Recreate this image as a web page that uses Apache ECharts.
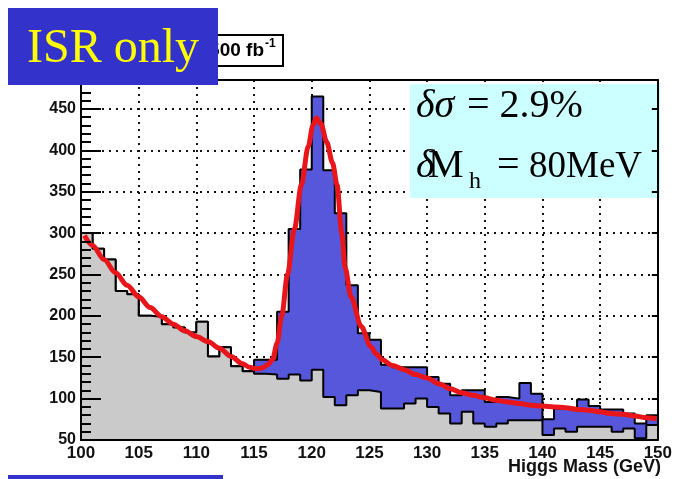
<!DOCTYPE html>
<html><head><meta charset="utf-8">
<script src="https://cdn.jsdelivr.net/npm/echarts@6/dist/echarts.min.js"></script>
<style>html,body{margin:0;padding:0;background:#fff}#c{width:675px;height:479px}</style>
</head><body><div id="c"></div>
<script>
// Bin edges (GeV), 1 GeV bins from 100 to 150
const binEdges = [100,101,102,103,104,105,106,107,108,109,110,111,112,113,114,115,116,117,118,119,120,121,122,123,124,125,126,127,128,129,130,131,132,133,134,135,136,137,138,139,140,141,142,143,144,145,146,147,148,149,150];
// Signal + background (blue histogram top)
const totalCounts = [300,281,268,230,226,200,199,190,186,180,193,151,162,139,133,147,147,205,305,377,465,376,324,237,179,171,141,138,138,138,126,118,104,110,110,96,102,100,119,106,75,88,88,99,91,87,87,82,70,80];
// Background only (grey histogram top)
const backgroundCounts = [300,281,268,230,226,200,199,190,186,180,193,151,162,139,133,130,129,124,129,122,135,102,92,104,110,108,88,88,94,100,90,82,70,84,70,66,70,74,74,74,56,64,60,66,66,66,60,64,52,68];
// Fit curve (red)
const fitMass = [100.3,101,102,103,104,105,106,107,108,109,110,111,112,113,114,114.6,115.2,115.7,116.2,116.6,117.0,117.4,117.9,118.5,119.1,119.7,120.1,120.4,120.8,121.3,121.8,122.2,122.6,122.9,123.4,124.3,125.1,125.6,126.1,127,128,129,130,131,132,133,134,135,136,137,138,139,140,141,142,143,144,145,146,147,148,149,149.9];
const fitValue = [297,285,268,252,237,223,210,199,190,182,175,169,161,151,142,138,136,137,141,147,167,200,250,305,358,405,430,439,432,410,385,358,300,258,223,187,163,154,147,140,135,129,125,118,112,107,104,101,98,96,94,92,91,90,89,87,86,84,82,81,79,77,76];
// Axis ticks
const xTicks = [100,105,110,115,120,125,130,135,140,145,150];
const yTicks = [50,100,150,200,250,300,350,400,450];

const xMin = xTicks[0], xMax = xTicks[xTicks.length-1];
const yMin = yTicks[0], yMax = 485;

function stepData(counts){
  return binEdges.map((e,i)=>[e, counts[Math.min(i, counts.length-1)]]);
}
const fitData = fitMass.map((m,i)=>[m, fitValue[i]]);

const labelFont = {fontFamily:'Liberation Sans', fontWeight:'bold', fontSize:16, color:'#111'};
const hidden = {axisLine:{show:false}, axisTick:{show:false}, axisLabel:{show:false}, splitLine:{show:false}};
const chart = echarts.init(document.getElementById('c'), null, {renderer:'canvas'});
chart.setOption({
  animation:false,
  backgroundColor:'#fff',
  grid:{left:81, top:80, width:582, height:360, show:false},
  xAxis:[
    {type:'value', min:xMin, max:xMax, interval:5, position:'bottom', z:10,
     axisLine:{show:true, lineStyle:{color:'#000', width:2}},
     axisTick:{show:false}, splitLine:{show:false},
     axisLabel:Object.assign({margin:5}, labelFont, {fontSize:17})},
    Object.assign({type:'value', min:xMin, max:xMax, interval:5, position:'bottom', z:1}, hidden,
     {splitLine:{show:true, lineStyle:{color:'#111', width:2, type:[2,5]}}}),
    Object.assign({type:'value', min:xMin, max:xMax, interval:5, position:'top', z:10}, hidden,
     {axisLine:{show:true, lineStyle:{color:'#000', width:2}}})
  ],
  yAxis:[
    {type:'value', min:yMin, max:yMax, interval:50, position:'left', z:10,
     axisLine:{show:true, lineStyle:{color:'#000', width:2}},
     axisTick:{show:true, inside:true, length:20, lineStyle:{color:'#000', width:2}},
     minorTick:{show:true, splitNumber:5, length:10, lineStyle:{color:'#000', width:2}},
     splitLine:{show:false},
     axisLabel:Object.assign({margin:5, showMaxLabel:false,
       formatter:v=> yTicks.indexOf(v)>=0 ? String(v) : ''}, labelFont)},
    Object.assign({type:'value', min:yMin, max:yMax, interval:50, position:'left', z:1}, hidden,
     {splitLine:{show:true, lineStyle:{color:'#111', width:2, type:[2,5]}}}),
    Object.assign({type:'value', min:yMin, max:yMax, interval:50, position:'right', z:10}, hidden,
     {axisLine:{show:true, lineStyle:{color:'#000', width:2}},
      axisTick:{show:true, inside:true, length:6, lineStyle:{color:'#000', width:2}}}),
    Object.assign({type:'value', min:yMin, max:yMax, interval:10, position:'left', z:11}, hidden,
     {axisLine:{show:true, lineStyle:{color:'#000', width:2}},
      axisTick:{show:true, inside:true, length:10, lineStyle:{color:'#000', width:2}}})
  ],
  series:[
    {name:'total', type:'line', step:'end', data:stepData(totalCounts), symbol:'none',
     xAxisIndex:0, yAxisIndex:0, z:2,
     lineStyle:{color:'#000', width:2}, areaStyle:{color:'#5757dc', opacity:1, origin:'start'}},
    {name:'background', type:'line', step:'end', data:stepData(backgroundCounts), symbol:'none',
     xAxisIndex:0, yAxisIndex:0, z:3,
     lineStyle:{color:'#000', width:2}, areaStyle:{color:'#cacaca', opacity:1, origin:'start'}},
    {name:'fit', type:'line', data:fitData, symbol:'none', smooth:0.3, smoothMonotone:'x',
     xAxisIndex:0, yAxisIndex:0, z:5,
     lineStyle:{color:'#e8161b', width:5}}
  ],
  graphic:[
    {type:'rect', z:6, shape:{x:410, y:84, width:250, height:114}, style:{fill:'#ccffff'}},
    {type:'text', z:7, style:{x:416, y:106.5, text:'δσ', font:'italic 40px "Liberation Serif"', fill:'#000', verticalAlign:'middle'}},
    {type:'text', z:7, style:{x:467, y:106.5, text:'= 2.9%', font:'40px "Liberation Serif"', fill:'#000', verticalAlign:'middle'}},
    {type:'text', z:7, style:{x:416, y:166.5, text:'δ', font:'italic 40px "Liberation Serif"', fill:'#000', verticalAlign:'middle'}},
    {type:'text', z:7, style:{x:428, y:166.5, text:'M', font:'40px "Liberation Serif"', fill:'#000', verticalAlign:'middle'}},
    {type:'text', z:7, style:{x:469, y:182, text:'h', font:'24px "Liberation Serif"', fill:'#000', verticalAlign:'middle'}},
    {type:'text', z:7, style:{x:497, y:166.5, text:'=', font:'40px "Liberation Serif"', fill:'#000', verticalAlign:'middle'}},
    {type:'text', z:7, style:{x:529, y:167, text:'80MeV', font:'37px "Liberation Serif"', fill:'#000', verticalAlign:'middle'}},
    {type:'text', z:7, style:{x:661, y:467, text:'Higgs Mass (GeV)', font:'bold 18px "Liberation Sans"', fill:'#111', align:'right', verticalAlign:'middle'}},
    {type:'rect', z:20, shape:{x:150, y:35, width:133, height:31}, style:{fill:'#fff', stroke:'#000', lineWidth:2}},
    {type:'text', z:21, style:{x:264, y:51, text:'L = 500 fb', font:'bold 19px "Liberation Sans"', fill:'#000', align:'right', verticalAlign:'middle'}},
    {type:'text', z:21, style:{x:265, y:44, text:'-1', font:'bold 12px "Liberation Sans"', fill:'#000', align:'left', verticalAlign:'middle'}},
    {type:'rect', z:30, shape:{x:8, y:8, width:210, height:77}, style:{fill:'#3333cc'}},
    {type:'text', z:31, style:{x:27, y:49, text:'ISR only', font:'48px "Liberation Serif"', fill:'#ffff00', verticalAlign:'middle'}},
    {type:'rect', z:30, shape:{x:8, y:475, width:215, height:10}, style:{fill:'#3333cc'}}
  ]
});
</script>
</body></html>
